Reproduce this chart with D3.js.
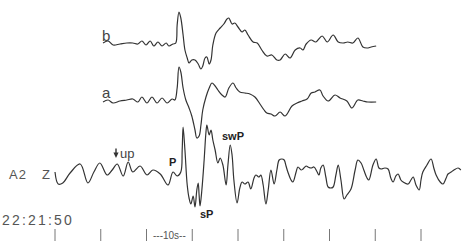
<!DOCTYPE html>
<html><head><meta charset="utf-8">
<script src="https://cdn.jsdelivr.net/npm/d3@7/dist/d3.min.js"></script>
<style>body{margin:0;background:#fff}svg{display:block}</style>
</head><body>
<script>
// time in seconds, amplitude in arbitrary units (up = positive)
const traceB_t = [10.5,11.6,12.7,14.2,15.7,17.0,18.1,19.0,19.9,20.8,21.6,22.5,23.4,24.3,24.9,25.8,26.4,26.7,27.1,27.5,28.0,28.4,28.9,29.3,29.9,30.6,31.3,31.9,32.3,32.8,33.2,33.7,34.1,34.5,35.2,36.1,36.9,37.6,38.0,38.7,39.3,40.0,40.9,41.5,42.2,43.3,44.2,45.2,46.3,47.4,48.5,49.2,50.3,51.4,52.5,53.6,54.2,54.9,56.0,57.0,58.4,59.5,60.8,61.9,63.0,64.0,65.1,66.2,67.3,68.2,69.1,70.2];
const traceB_v = [0,2,-2,-1,0,0,-1,2,-2,2,-3,1,-3,0,-3,-1,0,18,31,25,8,-7,-15,-20,-17,-17,-21,-26,-23,-15,-14,-21,-17,-2,10,15,19,24,25,19,20,16,11,13,8,1,0,-7,-13,-12,-17,-17,-11,-15,-7,-5,-7,-1,3,1,7,1,8,1,0,1,0,5,-4,-5,-4,-3];

const traceA_t = [10.5,11.6,12.7,14.2,15.7,17.0,18.1,19.0,20.1,21.2,22.3,23.4,24.5,25.6,26.2,26.7,27.1,27.5,28.0,28.6,29.3,29.9,30.6,31.0,31.5,31.9,32.3,33.0,33.7,34.3,35.0,35.6,36.5,37.2,38.0,38.9,39.6,40.4,41.5,42.6,43.7,44.8,45.7,46.3,47.2,48.1,49.2,50.3,51.8,52.9,54.0,55.1,56.0,56.8,57.9,58.6,59.7,61.2,62.3,63.8,64.9,66.2,67.3,68.4,70.2];
const traceA_v = [-2,0,-3,-1,0,1,-2,3,-3,3,-3,2,-3,1,0,12,33,28,12,0,-8,-16,-30,-38,-36,-25,-10,3,12,17,14,10,5,3,12,17,12,8,7,6,3,-4,-10,-13,-14,-16,-12,-16,-6,-3,-1,1,7,8,10,4,-1,5,2,-1,-8,0,-1,-2,-2];

const traceZ_t = [0.0,0.7,1.7,3.3,5.5,7.2,8.5,9.8,11.4,12.5,13.6,14.9,16.0,17.0,18.6,20.1,21.4,23.0,24.7,25.8,26.7,27.5,27.8,28.0,28.4,28.9,29.3,29.7,30.2,30.6,31.0,31.3,31.5,31.7,32.1,32.6,33.0,33.2,33.7,34.1,34.5,35.0,35.6,36.1,36.7,37.4,37.8,38.3,38.7,39.1,39.8,40.4,40.9,41.5,42.2,42.8,43.5,43.9,44.6,45.0,45.5,46.1,46.6,47.2,47.9,48.5,49.0,49.6,50.1,50.5,50.9,51.6,52.0,52.7,53.1,53.8,54.2,54.9,55.3,56.0,56.6,57.3,57.7,58.1,58.6,59.2,59.7,60.3,60.8,61.4,61.9,62.5,63.2,63.8,64.7,65.6,66.2,66.9,67.5,68.2,68.6,69.5,70.2,70.8,71.3,72.1,72.8,73.4,73.9,74.5,75.0,75.6,76.1,77.2,77.8,78.3,78.9,79.6,80.0,80.4,81.3,82.2,82.8,83.3,84.2,84.8,85.5,85.9,86.6,87.2,88.1,88.7];
const traceZ_v = [0,-12,-11,-1,8,-11,0,9,-3,2,8,-4,10,0,6,-3,2,-2,-13,0,-4,0,22,45,22,-13,-26,-32,-24,-35,-18,-11,-23,-34,-18,12,40,47,37,42,32,22,9,14,7,-13,7,27,17,-8,-31,-16,-10,-12,-10,-17,-6,-3,-5,-3,-13,-32,-18,2,-12,2,12,13,12,6,0,-8,-10,0,5,2,3,6,5,4,5,0,-3,4,7,-5,-15,-16,-15,-3,7,-8,-27,-23,-17,2,12,9,2,-6,-8,7,13,4,3,4,3,-6,-10,-4,-2,-8,-10,-12,-8,-5,-13,-18,-8,0,7,13,4,-3,-10,-12,-6,-2,0,2,4,2];

const tickSeconds = [0,10,20,30,40,50,60,70,80];
const bracketSeconds = [20,30];
const bracketLabel = "---10s--";
const timeLabel = "22:21:50";
const traceLabels = ["b","a"];
const stationLabel = ["A2","Z"];
const phaseLabels = ["P","sP","swP"];

const W = 462, H = 244;
const svg = d3.select("body").append("svg").attr("width", W).attr("height", H);

const x = d3.scaleLinear().domain([0, 80]).range([55, 421]);
const yB = d3.scaleLinear().domain([-50, 50]).range([93, -7]);
const yA = d3.scaleLinear().domain([-50, 50]).range([150, 50]);
const yZ = d3.scaleLinear().domain([-50, 50]).range([222, 122]);

const lineColor = "#333";
function drawTrace(ts, vs, ys) {
  const data = ts.map((t, i) => [t, vs[i]]);
  const line = d3.line().x(d => x(d[0])).y(d => ys(d[1])).curve(d3.curveCatmullRom.alpha(0.5));
  svg.append("path").datum(data).attr("d", line)
    .attr("fill", "none").attr("stroke", lineColor).attr("stroke-width", 1.2)
    .attr("stroke-linejoin", "round");
}
drawTrace(traceB_t, traceB_v, yB);
drawTrace(traceA_t, traceA_v, yA);
drawTrace(traceZ_t, traceZ_v, yZ);

const font = "'Liberation Sans', Arial, sans-serif";
svg.append("text").attr("x", 102).attr("y", 41).text(traceLabels[0])
  .attr("font-family", font).attr("font-size", 15).attr("fill", "#444");
svg.append("text").attr("x", 102).attr("y", 98).text(traceLabels[1])
  .attr("font-family", font).attr("font-size", 15).attr("fill", "#444");
svg.append("text").attr("x", 9).attr("y", 179).text(stationLabel[0])
  .attr("font-family", font).attr("font-size", 13).attr("fill", "#555").attr("letter-spacing", 1);
svg.append("text").attr("x", 42).attr("y", 179).text(stationLabel[1])
  .attr("font-family", font).attr("font-size", 13).attr("fill", "#555");
svg.append("path").attr("d", "M115.3,148.5 L116.7,148.5 L116.7,152.5 L118.6,152.5 L116,158 L113.4,152.5 L115.3,152.5 Z")
  .attr("fill", "#333");
svg.append("text").attr("x", 120).attr("y", 158).text("up")
  .attr("font-family", font).attr("font-size", 13).attr("fill", "#444");
const phasePos = [[169, 166], [200, 218], [222, 140]];
phaseLabels.forEach((p, i) => {
  svg.append("text").attr("x", phasePos[i][0]).attr("y", phasePos[i][1]).text(p)
    .attr("font-family", font).attr("font-size", 11).attr("font-weight", "bold").attr("fill", "#222");
});
svg.append("text").attr("x", 2).attr("y", 225).text(timeLabel)
  .attr("font-family", font).attr("font-size", 14).attr("fill", "#555").attr("letter-spacing", 2.2);
svg.selectAll("line.tick").data(tickSeconds).enter().append("line")
  .attr("class", "tick")
  .attr("x1", d => x(d)).attr("x2", d => x(d))
  .attr("y1", 229).attr("y2", 241)
  .attr("stroke", "#777").attr("stroke-width", 1);
svg.append("text").attr("x", (x(bracketSeconds[0]) + x(bracketSeconds[1])) / 2).attr("y", 239).attr("text-anchor", "middle")
  .text(bracketLabel).attr("font-family", font).attr("font-size", 10).attr("fill", "#555");
</script>
</body></html>
